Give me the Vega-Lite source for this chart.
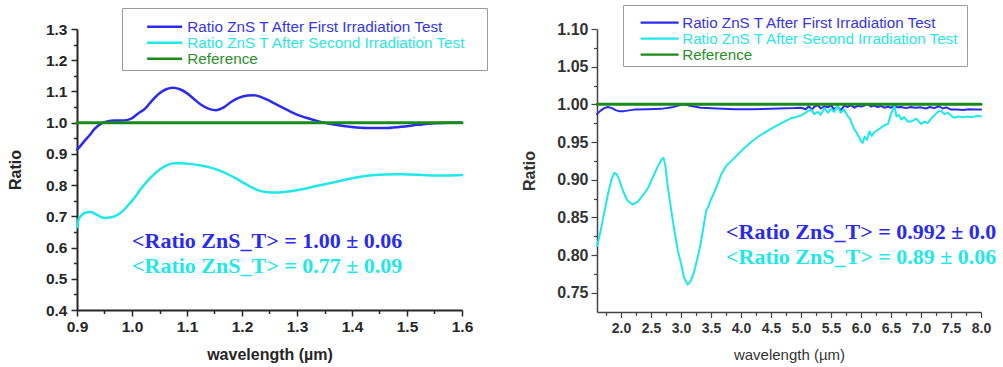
{
  "$schema": "https://vega.github.io/schema/vega-lite/v6.json",
  "background": "white",
  "padding": {"left": 7, "top": 4, "right": 0, "bottom": 4},
  "bounds": "flush",
  "spacing": 135,
  "config": {
    "view": {"stroke": null},
    "font": "Liberation Sans",
    "axis": {
      "grid": false,
      "domainColor": "#262626",
      "tickColor": "#262626",
      "labelColor": "#262626",
      "titleColor": "#262626",
      "labelFont": "Liberation Sans",
      "titleFont": "Liberation Sans",
      "labelFontWeight": "bold",
      "tickWidth": 1.5,
      "domainWidth": 2,
      "labelFlush": false,
      "labelOverlap": false,
      "labelBound": false
    },
    "line": {"strokeCap": "round", "strokeJoin": "round"}
  },
  "datasets": {
    "vis": [
      {"series": "Ratio ZnS T After First Irradiation Test", "wavelength": 0.900, "ratio": 0.913},
      {"series": "Ratio ZnS T After First Irradiation Test", "wavelength": 0.906, "ratio": 0.925},
      {"series": "Ratio ZnS T After First Irradiation Test", "wavelength": 0.913, "ratio": 0.940},
      {"series": "Ratio ZnS T After First Irradiation Test", "wavelength": 0.922, "ratio": 0.958},
      {"series": "Ratio ZnS T After First Irradiation Test", "wavelength": 0.932, "ratio": 0.980},
      {"series": "Ratio ZnS T After First Irradiation Test", "wavelength": 0.944, "ratio": 0.997},
      {"series": "Ratio ZnS T After First Irradiation Test", "wavelength": 0.955, "ratio": 1.004},
      {"series": "Ratio ZnS T After First Irradiation Test", "wavelength": 0.968, "ratio": 1.007},
      {"series": "Ratio ZnS T After First Irradiation Test", "wavelength": 0.980, "ratio": 1.007},
      {"series": "Ratio ZnS T After First Irradiation Test", "wavelength": 0.992, "ratio": 1.009},
      {"series": "Ratio ZnS T After First Irradiation Test", "wavelength": 1.000, "ratio": 1.014},
      {"series": "Ratio ZnS T After First Irradiation Test", "wavelength": 1.007, "ratio": 1.024},
      {"series": "Ratio ZnS T After First Irradiation Test", "wavelength": 1.015, "ratio": 1.034},
      {"series": "Ratio ZnS T After First Irradiation Test", "wavelength": 1.022, "ratio": 1.042},
      {"series": "Ratio ZnS T After First Irradiation Test", "wavelength": 1.036, "ratio": 1.070},
      {"series": "Ratio ZnS T After First Irradiation Test", "wavelength": 1.050, "ratio": 1.094},
      {"series": "Ratio ZnS T After First Irradiation Test", "wavelength": 1.062, "ratio": 1.107},
      {"series": "Ratio ZnS T After First Irradiation Test", "wavelength": 1.074, "ratio": 1.112},
      {"series": "Ratio ZnS T After First Irradiation Test", "wavelength": 1.087, "ratio": 1.107},
      {"series": "Ratio ZnS T After First Irradiation Test", "wavelength": 1.101, "ratio": 1.093},
      {"series": "Ratio ZnS T After First Irradiation Test", "wavelength": 1.113, "ratio": 1.075},
      {"series": "Ratio ZnS T After First Irradiation Test", "wavelength": 1.125, "ratio": 1.058},
      {"series": "Ratio ZnS T After First Irradiation Test", "wavelength": 1.140, "ratio": 1.044},
      {"series": "Ratio ZnS T After First Irradiation Test", "wavelength": 1.153, "ratio": 1.040},
      {"series": "Ratio ZnS T After First Irradiation Test", "wavelength": 1.166, "ratio": 1.048},
      {"series": "Ratio ZnS T After First Irradiation Test", "wavelength": 1.180, "ratio": 1.066},
      {"series": "Ratio ZnS T After First Irradiation Test", "wavelength": 1.195, "ratio": 1.080},
      {"series": "Ratio ZnS T After First Irradiation Test", "wavelength": 1.210, "ratio": 1.087},
      {"series": "Ratio ZnS T After First Irradiation Test", "wavelength": 1.222, "ratio": 1.088},
      {"series": "Ratio ZnS T After First Irradiation Test", "wavelength": 1.235, "ratio": 1.082},
      {"series": "Ratio ZnS T After First Irradiation Test", "wavelength": 1.250, "ratio": 1.070},
      {"series": "Ratio ZnS T After First Irradiation Test", "wavelength": 1.265, "ratio": 1.056},
      {"series": "Ratio ZnS T After First Irradiation Test", "wavelength": 1.283, "ratio": 1.040},
      {"series": "Ratio ZnS T After First Irradiation Test", "wavelength": 1.300, "ratio": 1.026},
      {"series": "Ratio ZnS T After First Irradiation Test", "wavelength": 1.320, "ratio": 1.014},
      {"series": "Ratio ZnS T After First Irradiation Test", "wavelength": 1.338, "ratio": 1.005},
      {"series": "Ratio ZnS T After First Irradiation Test", "wavelength": 1.355, "ratio": 0.998},
      {"series": "Ratio ZnS T After First Irradiation Test", "wavelength": 1.370, "ratio": 0.993},
      {"series": "Ratio ZnS T After First Irradiation Test", "wavelength": 1.400, "ratio": 0.986},
      {"series": "Ratio ZnS T After First Irradiation Test", "wavelength": 1.428, "ratio": 0.983},
      {"series": "Ratio ZnS T After First Irradiation Test", "wavelength": 1.460, "ratio": 0.983},
      {"series": "Ratio ZnS T After First Irradiation Test", "wavelength": 1.489, "ratio": 0.987},
      {"series": "Ratio ZnS T After First Irradiation Test", "wavelength": 1.520, "ratio": 0.993},
      {"series": "Ratio ZnS T After First Irradiation Test", "wavelength": 1.549, "ratio": 0.998},
      {"series": "Ratio ZnS T After First Irradiation Test", "wavelength": 1.575, "ratio": 1.000},
      {"series": "Ratio ZnS T After First Irradiation Test", "wavelength": 1.600, "ratio": 1.000},
      {"series": "Ratio ZnS T After Second Irradiation Test", "wavelength": 0.900, "ratio": 0.665},
      {"series": "Ratio ZnS T After Second Irradiation Test", "wavelength": 0.903, "ratio": 0.690},
      {"series": "Ratio ZnS T After Second Irradiation Test", "wavelength": 0.908, "ratio": 0.703},
      {"series": "Ratio ZnS T After Second Irradiation Test", "wavelength": 0.916, "ratio": 0.712},
      {"series": "Ratio ZnS T After Second Irradiation Test", "wavelength": 0.925, "ratio": 0.714},
      {"series": "Ratio ZnS T After Second Irradiation Test", "wavelength": 0.938, "ratio": 0.703},
      {"series": "Ratio ZnS T After Second Irradiation Test", "wavelength": 0.950, "ratio": 0.695},
      {"series": "Ratio ZnS T After Second Irradiation Test", "wavelength": 0.962, "ratio": 0.697},
      {"series": "Ratio ZnS T After Second Irradiation Test", "wavelength": 0.974, "ratio": 0.705},
      {"series": "Ratio ZnS T After Second Irradiation Test", "wavelength": 0.985, "ratio": 0.720},
      {"series": "Ratio ZnS T After Second Irradiation Test", "wavelength": 0.995, "ratio": 0.740},
      {"series": "Ratio ZnS T After Second Irradiation Test", "wavelength": 1.005, "ratio": 0.760},
      {"series": "Ratio ZnS T After Second Irradiation Test", "wavelength": 1.016, "ratio": 0.788},
      {"series": "Ratio ZnS T After Second Irradiation Test", "wavelength": 1.028, "ratio": 0.813},
      {"series": "Ratio ZnS T After Second Irradiation Test", "wavelength": 1.041, "ratio": 0.836},
      {"series": "Ratio ZnS T After Second Irradiation Test", "wavelength": 1.053, "ratio": 0.853},
      {"series": "Ratio ZnS T After Second Irradiation Test", "wavelength": 1.065, "ratio": 0.865},
      {"series": "Ratio ZnS T After Second Irradiation Test", "wavelength": 1.078, "ratio": 0.870},
      {"series": "Ratio ZnS T After Second Irradiation Test", "wavelength": 1.090, "ratio": 0.870},
      {"series": "Ratio ZnS T After Second Irradiation Test", "wavelength": 1.105, "ratio": 0.868},
      {"series": "Ratio ZnS T After Second Irradiation Test", "wavelength": 1.125, "ratio": 0.863},
      {"series": "Ratio ZnS T After Second Irradiation Test", "wavelength": 1.143, "ratio": 0.856},
      {"series": "Ratio ZnS T After Second Irradiation Test", "wavelength": 1.162, "ratio": 0.845},
      {"series": "Ratio ZnS T After Second Irradiation Test", "wavelength": 1.180, "ratio": 0.830},
      {"series": "Ratio ZnS T After Second Irradiation Test", "wavelength": 1.198, "ratio": 0.812},
      {"series": "Ratio ZnS T After Second Irradiation Test", "wavelength": 1.215, "ratio": 0.795},
      {"series": "Ratio ZnS T After Second Irradiation Test", "wavelength": 1.230, "ratio": 0.783},
      {"series": "Ratio ZnS T After Second Irradiation Test", "wavelength": 1.246, "ratio": 0.777},
      {"series": "Ratio ZnS T After Second Irradiation Test", "wavelength": 1.262, "ratio": 0.776},
      {"series": "Ratio ZnS T After Second Irradiation Test", "wavelength": 1.280, "ratio": 0.779},
      {"series": "Ratio ZnS T After Second Irradiation Test", "wavelength": 1.307, "ratio": 0.786},
      {"series": "Ratio ZnS T After Second Irradiation Test", "wavelength": 1.335, "ratio": 0.797},
      {"series": "Ratio ZnS T After Second Irradiation Test", "wavelength": 1.368, "ratio": 0.809},
      {"series": "Ratio ZnS T After Second Irradiation Test", "wavelength": 1.400, "ratio": 0.822},
      {"series": "Ratio ZnS T After Second Irradiation Test", "wavelength": 1.428, "ratio": 0.830},
      {"series": "Ratio ZnS T After Second Irradiation Test", "wavelength": 1.460, "ratio": 0.834},
      {"series": "Ratio ZnS T After Second Irradiation Test", "wavelength": 1.489, "ratio": 0.835},
      {"series": "Ratio ZnS T After Second Irradiation Test", "wavelength": 1.520, "ratio": 0.833},
      {"series": "Ratio ZnS T After Second Irradiation Test", "wavelength": 1.550, "ratio": 0.831},
      {"series": "Ratio ZnS T After Second Irradiation Test", "wavelength": 1.575, "ratio": 0.831},
      {"series": "Ratio ZnS T After Second Irradiation Test", "wavelength": 1.600, "ratio": 0.832},
      {"series": "Reference", "wavelength": 0.900, "ratio": 1.0},
      {"series": "Reference", "wavelength": 1.600, "ratio": 1.0}
    ],
    "ir": [
      {"series": "Ratio ZnS T After First Irradiation Test", "wavelength": 1.60, "ratio": 0.987},
      {"series": "Ratio ZnS T After First Irradiation Test", "wavelength": 1.65, "ratio": 0.991},
      {"series": "Ratio ZnS T After First Irradiation Test", "wavelength": 1.72, "ratio": 0.995},
      {"series": "Ratio ZnS T After First Irradiation Test", "wavelength": 1.78, "ratio": 0.9965},
      {"series": "Ratio ZnS T After First Irradiation Test", "wavelength": 1.85, "ratio": 0.995},
      {"series": "Ratio ZnS T After First Irradiation Test", "wavelength": 1.92, "ratio": 0.992},
      {"series": "Ratio ZnS T After First Irradiation Test", "wavelength": 1.97, "ratio": 0.991},
      {"series": "Ratio ZnS T After First Irradiation Test", "wavelength": 2.05, "ratio": 0.991},
      {"series": "Ratio ZnS T After First Irradiation Test", "wavelength": 2.22, "ratio": 0.993},
      {"series": "Ratio ZnS T After First Irradiation Test", "wavelength": 2.45, "ratio": 0.9935},
      {"series": "Ratio ZnS T After First Irradiation Test", "wavelength": 2.67, "ratio": 0.994},
      {"series": "Ratio ZnS T After First Irradiation Test", "wavelength": 2.85, "ratio": 0.996},
      {"series": "Ratio ZnS T After First Irradiation Test", "wavelength": 3.00, "ratio": 0.9995},
      {"series": "Ratio ZnS T After First Irradiation Test", "wavelength": 3.06, "ratio": 1.000},
      {"series": "Ratio ZnS T After First Irradiation Test", "wavelength": 3.15, "ratio": 0.998},
      {"series": "Ratio ZnS T After First Irradiation Test", "wavelength": 3.33, "ratio": 0.9955},
      {"series": "Ratio ZnS T After First Irradiation Test", "wavelength": 3.60, "ratio": 0.9945},
      {"series": "Ratio ZnS T After First Irradiation Test", "wavelength": 3.90, "ratio": 0.9935},
      {"series": "Ratio ZnS T After First Irradiation Test", "wavelength": 4.17, "ratio": 0.9935},
      {"series": "Ratio ZnS T After First Irradiation Test", "wavelength": 4.50, "ratio": 0.994},
      {"series": "Ratio ZnS T After First Irradiation Test", "wavelength": 4.89, "ratio": 0.995},
      {"series": "Ratio ZnS T After First Irradiation Test", "wavelength": 5.00, "ratio": 0.9955},
      {"series": "Ratio ZnS T After First Irradiation Test", "wavelength": 5.08, "ratio": 0.9935},
      {"series": "Ratio ZnS T After First Irradiation Test", "wavelength": 5.13, "ratio": 0.9975},
      {"series": "Ratio ZnS T After First Irradiation Test", "wavelength": 5.18, "ratio": 0.993},
      {"series": "Ratio ZnS T After First Irradiation Test", "wavelength": 5.22, "ratio": 0.9965},
      {"series": "Ratio ZnS T After First Irradiation Test", "wavelength": 5.28, "ratio": 0.999},
      {"series": "Ratio ZnS T After First Irradiation Test", "wavelength": 5.33, "ratio": 0.9945},
      {"series": "Ratio ZnS T After First Irradiation Test", "wavelength": 5.39, "ratio": 0.9975},
      {"series": "Ratio ZnS T After First Irradiation Test", "wavelength": 5.45, "ratio": 0.996},
      {"series": "Ratio ZnS T After First Irradiation Test", "wavelength": 5.50, "ratio": 0.999},
      {"series": "Ratio ZnS T After First Irradiation Test", "wavelength": 5.55, "ratio": 0.9935},
      {"series": "Ratio ZnS T After First Irradiation Test", "wavelength": 5.61, "ratio": 0.997},
      {"series": "Ratio ZnS T After First Irradiation Test", "wavelength": 5.66, "ratio": 0.992},
      {"series": "Ratio ZnS T After First Irradiation Test", "wavelength": 5.72, "ratio": 0.998},
      {"series": "Ratio ZnS T After First Irradiation Test", "wavelength": 5.78, "ratio": 0.9965},
      {"series": "Ratio ZnS T After First Irradiation Test", "wavelength": 5.83, "ratio": 0.999},
      {"series": "Ratio ZnS T After First Irradiation Test", "wavelength": 5.89, "ratio": 0.9955},
      {"series": "Ratio ZnS T After First Irradiation Test", "wavelength": 5.95, "ratio": 0.998},
      {"series": "Ratio ZnS T After First Irradiation Test", "wavelength": 6.00, "ratio": 0.997},
      {"series": "Ratio ZnS T After First Irradiation Test", "wavelength": 6.06, "ratio": 0.9985},
      {"series": "Ratio ZnS T After First Irradiation Test", "wavelength": 6.11, "ratio": 1.0005},
      {"series": "Ratio ZnS T After First Irradiation Test", "wavelength": 6.17, "ratio": 0.997},
      {"series": "Ratio ZnS T After First Irradiation Test", "wavelength": 6.22, "ratio": 0.9985},
      {"series": "Ratio ZnS T After First Irradiation Test", "wavelength": 6.28, "ratio": 0.9965},
      {"series": "Ratio ZnS T After First Irradiation Test", "wavelength": 6.33, "ratio": 0.998},
      {"series": "Ratio ZnS T After First Irradiation Test", "wavelength": 6.39, "ratio": 0.9955},
      {"series": "Ratio ZnS T After First Irradiation Test", "wavelength": 6.45, "ratio": 0.997},
      {"series": "Ratio ZnS T After First Irradiation Test", "wavelength": 6.50, "ratio": 0.9955},
      {"series": "Ratio ZnS T After First Irradiation Test", "wavelength": 6.56, "ratio": 0.998},
      {"series": "Ratio ZnS T After First Irradiation Test", "wavelength": 6.61, "ratio": 0.996},
      {"series": "Ratio ZnS T After First Irradiation Test", "wavelength": 6.67, "ratio": 0.9965},
      {"series": "Ratio ZnS T After First Irradiation Test", "wavelength": 6.75, "ratio": 0.995},
      {"series": "Ratio ZnS T After First Irradiation Test", "wavelength": 6.83, "ratio": 0.9965},
      {"series": "Ratio ZnS T After First Irradiation Test", "wavelength": 6.90, "ratio": 0.9955},
      {"series": "Ratio ZnS T After First Irradiation Test", "wavelength": 7.00, "ratio": 0.996},
      {"series": "Ratio ZnS T After First Irradiation Test", "wavelength": 7.08, "ratio": 0.9945},
      {"series": "Ratio ZnS T After First Irradiation Test", "wavelength": 7.15, "ratio": 0.9965},
      {"series": "Ratio ZnS T After First Irradiation Test", "wavelength": 7.22, "ratio": 0.995},
      {"series": "Ratio ZnS T After First Irradiation Test", "wavelength": 7.30, "ratio": 0.9975},
      {"series": "Ratio ZnS T After First Irradiation Test", "wavelength": 7.36, "ratio": 0.9945},
      {"series": "Ratio ZnS T After First Irradiation Test", "wavelength": 7.42, "ratio": 0.996},
      {"series": "Ratio ZnS T After First Irradiation Test", "wavelength": 7.50, "ratio": 0.993},
      {"series": "Ratio ZnS T After First Irradiation Test", "wavelength": 7.60, "ratio": 0.993},
      {"series": "Ratio ZnS T After First Irradiation Test", "wavelength": 7.70, "ratio": 0.9925},
      {"series": "Ratio ZnS T After First Irradiation Test", "wavelength": 7.80, "ratio": 0.9935},
      {"series": "Ratio ZnS T After First Irradiation Test", "wavelength": 7.90, "ratio": 0.993},
      {"series": "Ratio ZnS T After First Irradiation Test", "wavelength": 8.00, "ratio": 0.993},
      {"series": "Ratio ZnS T After Second Irradiation Test", "wavelength": 1.60, "ratio": 0.812},
      {"series": "Ratio ZnS T After Second Irradiation Test", "wavelength": 1.64, "ratio": 0.825},
      {"series": "Ratio ZnS T After Second Irradiation Test", "wavelength": 1.68, "ratio": 0.840},
      {"series": "Ratio ZnS T After Second Irradiation Test", "wavelength": 1.73, "ratio": 0.860},
      {"series": "Ratio ZnS T After Second Irradiation Test", "wavelength": 1.78, "ratio": 0.880},
      {"series": "Ratio ZnS T After Second Irradiation Test", "wavelength": 1.84, "ratio": 0.900},
      {"series": "Ratio ZnS T After Second Irradiation Test", "wavelength": 1.89, "ratio": 0.909},
      {"series": "Ratio ZnS T After Second Irradiation Test", "wavelength": 1.93, "ratio": 0.907},
      {"series": "Ratio ZnS T After Second Irradiation Test", "wavelength": 1.97, "ratio": 0.900},
      {"series": "Ratio ZnS T After Second Irradiation Test", "wavelength": 2.03, "ratio": 0.886},
      {"series": "Ratio ZnS T After Second Irradiation Test", "wavelength": 2.10, "ratio": 0.873},
      {"series": "Ratio ZnS T After Second Irradiation Test", "wavelength": 2.19, "ratio": 0.867},
      {"series": "Ratio ZnS T After Second Irradiation Test", "wavelength": 2.28, "ratio": 0.871},
      {"series": "Ratio ZnS T After Second Irradiation Test", "wavelength": 2.38, "ratio": 0.881},
      {"series": "Ratio ZnS T After Second Irradiation Test", "wavelength": 2.45, "ratio": 0.889},
      {"series": "Ratio ZnS T After Second Irradiation Test", "wavelength": 2.53, "ratio": 0.903},
      {"series": "Ratio ZnS T After Second Irradiation Test", "wavelength": 2.61, "ratio": 0.917},
      {"series": "Ratio ZnS T After Second Irradiation Test", "wavelength": 2.67, "ratio": 0.926},
      {"series": "Ratio ZnS T After Second Irradiation Test", "wavelength": 2.71, "ratio": 0.929},
      {"series": "Ratio ZnS T After Second Irradiation Test", "wavelength": 2.74, "ratio": 0.918},
      {"series": "Ratio ZnS T After Second Irradiation Test", "wavelength": 2.78, "ratio": 0.890},
      {"series": "Ratio ZnS T After Second Irradiation Test", "wavelength": 2.84, "ratio": 0.858},
      {"series": "Ratio ZnS T After Second Irradiation Test", "wavelength": 2.89, "ratio": 0.832},
      {"series": "Ratio ZnS T After Second Irradiation Test", "wavelength": 2.95, "ratio": 0.805},
      {"series": "Ratio ZnS T After Second Irradiation Test", "wavelength": 3.00, "ratio": 0.789},
      {"series": "Ratio ZnS T After Second Irradiation Test", "wavelength": 3.05, "ratio": 0.770},
      {"series": "Ratio ZnS T After Second Irradiation Test", "wavelength": 3.11, "ratio": 0.761},
      {"series": "Ratio ZnS T After Second Irradiation Test", "wavelength": 3.16, "ratio": 0.765},
      {"series": "Ratio ZnS T After Second Irradiation Test", "wavelength": 3.22, "ratio": 0.778},
      {"series": "Ratio ZnS T After Second Irradiation Test", "wavelength": 3.28, "ratio": 0.798},
      {"series": "Ratio ZnS T After Second Irradiation Test", "wavelength": 3.33, "ratio": 0.816},
      {"series": "Ratio ZnS T After Second Irradiation Test", "wavelength": 3.38, "ratio": 0.840},
      {"series": "Ratio ZnS T After Second Irradiation Test", "wavelength": 3.42, "ratio": 0.859},
      {"series": "Ratio ZnS T After Second Irradiation Test", "wavelength": 3.45, "ratio": 0.863},
      {"series": "Ratio ZnS T After Second Irradiation Test", "wavelength": 3.50, "ratio": 0.874},
      {"series": "Ratio ZnS T After Second Irradiation Test", "wavelength": 3.56, "ratio": 0.884},
      {"series": "Ratio ZnS T After Second Irradiation Test", "wavelength": 3.61, "ratio": 0.894},
      {"series": "Ratio ZnS T After Second Irradiation Test", "wavelength": 3.67, "ratio": 0.907},
      {"series": "Ratio ZnS T After Second Irradiation Test", "wavelength": 3.75, "ratio": 0.918},
      {"series": "Ratio ZnS T After Second Irradiation Test", "wavelength": 3.89, "ratio": 0.929},
      {"series": "Ratio ZnS T After Second Irradiation Test", "wavelength": 4.03, "ratio": 0.940},
      {"series": "Ratio ZnS T After Second Irradiation Test", "wavelength": 4.17, "ratio": 0.950},
      {"series": "Ratio ZnS T After Second Irradiation Test", "wavelength": 4.30, "ratio": 0.958},
      {"series": "Ratio ZnS T After Second Irradiation Test", "wavelength": 4.45, "ratio": 0.965},
      {"series": "Ratio ZnS T After Second Irradiation Test", "wavelength": 4.58, "ratio": 0.971},
      {"series": "Ratio ZnS T After Second Irradiation Test", "wavelength": 4.72, "ratio": 0.977},
      {"series": "Ratio ZnS T After Second Irradiation Test", "wavelength": 4.85, "ratio": 0.982},
      {"series": "Ratio ZnS T After Second Irradiation Test", "wavelength": 5.00, "ratio": 0.985},
      {"series": "Ratio ZnS T After Second Irradiation Test", "wavelength": 5.06, "ratio": 0.988},
      {"series": "Ratio ZnS T After Second Irradiation Test", "wavelength": 5.11, "ratio": 0.991},
      {"series": "Ratio ZnS T After Second Irradiation Test", "wavelength": 5.17, "ratio": 0.993},
      {"series": "Ratio ZnS T After Second Irradiation Test", "wavelength": 5.22, "ratio": 0.987},
      {"series": "Ratio ZnS T After Second Irradiation Test", "wavelength": 5.28, "ratio": 0.990},
      {"series": "Ratio ZnS T After Second Irradiation Test", "wavelength": 5.33, "ratio": 0.986},
      {"series": "Ratio ZnS T After Second Irradiation Test", "wavelength": 5.39, "ratio": 0.995},
      {"series": "Ratio ZnS T After Second Irradiation Test", "wavelength": 5.45, "ratio": 0.989},
      {"series": "Ratio ZnS T After Second Irradiation Test", "wavelength": 5.50, "ratio": 0.994},
      {"series": "Ratio ZnS T After Second Irradiation Test", "wavelength": 5.55, "ratio": 0.990},
      {"series": "Ratio ZnS T After Second Irradiation Test", "wavelength": 5.61, "ratio": 0.998},
      {"series": "Ratio ZnS T After Second Irradiation Test", "wavelength": 5.66, "ratio": 0.989},
      {"series": "Ratio ZnS T After Second Irradiation Test", "wavelength": 5.72, "ratio": 0.993},
      {"series": "Ratio ZnS T After Second Irradiation Test", "wavelength": 5.78, "ratio": 0.984},
      {"series": "Ratio ZnS T After Second Irradiation Test", "wavelength": 5.81, "ratio": 0.982},
      {"series": "Ratio ZnS T After Second Irradiation Test", "wavelength": 5.86, "ratio": 0.972},
      {"series": "Ratio ZnS T After Second Irradiation Test", "wavelength": 5.89, "ratio": 0.967},
      {"series": "Ratio ZnS T After Second Irradiation Test", "wavelength": 5.93, "ratio": 0.962},
      {"series": "Ratio ZnS T After Second Irradiation Test", "wavelength": 5.97, "ratio": 0.956},
      {"series": "Ratio ZnS T After Second Irradiation Test", "wavelength": 6.00, "ratio": 0.951},
      {"series": "Ratio ZnS T After Second Irradiation Test", "wavelength": 6.03, "ratio": 0.949},
      {"series": "Ratio ZnS T After Second Irradiation Test", "wavelength": 6.06, "ratio": 0.957},
      {"series": "Ratio ZnS T After Second Irradiation Test", "wavelength": 6.10, "ratio": 0.953},
      {"series": "Ratio ZnS T After Second Irradiation Test", "wavelength": 6.14, "ratio": 0.964},
      {"series": "Ratio ZnS T After Second Irradiation Test", "wavelength": 6.18, "ratio": 0.958},
      {"series": "Ratio ZnS T After Second Irradiation Test", "wavelength": 6.22, "ratio": 0.963},
      {"series": "Ratio ZnS T After Second Irradiation Test", "wavelength": 6.28, "ratio": 0.966},
      {"series": "Ratio ZnS T After Second Irradiation Test", "wavelength": 6.33, "ratio": 0.969},
      {"series": "Ratio ZnS T After Second Irradiation Test", "wavelength": 6.39, "ratio": 0.972},
      {"series": "Ratio ZnS T After Second Irradiation Test", "wavelength": 6.45, "ratio": 0.974},
      {"series": "Ratio ZnS T After Second Irradiation Test", "wavelength": 6.50, "ratio": 0.987},
      {"series": "Ratio ZnS T After Second Irradiation Test", "wavelength": 6.56, "ratio": 0.998},
      {"series": "Ratio ZnS T After Second Irradiation Test", "wavelength": 6.59, "ratio": 0.984},
      {"series": "Ratio ZnS T After Second Irradiation Test", "wavelength": 6.63, "ratio": 0.986},
      {"series": "Ratio ZnS T After Second Irradiation Test", "wavelength": 6.67, "ratio": 0.980},
      {"series": "Ratio ZnS T After Second Irradiation Test", "wavelength": 6.72, "ratio": 0.983},
      {"series": "Ratio ZnS T After Second Irradiation Test", "wavelength": 6.78, "ratio": 0.977},
      {"series": "Ratio ZnS T After Second Irradiation Test", "wavelength": 6.86, "ratio": 0.978},
      {"series": "Ratio ZnS T After Second Irradiation Test", "wavelength": 6.92, "ratio": 0.981},
      {"series": "Ratio ZnS T After Second Irradiation Test", "wavelength": 7.00, "ratio": 0.974},
      {"series": "Ratio ZnS T After Second Irradiation Test", "wavelength": 7.06, "ratio": 0.977},
      {"series": "Ratio ZnS T After Second Irradiation Test", "wavelength": 7.11, "ratio": 0.975},
      {"series": "Ratio ZnS T After Second Irradiation Test", "wavelength": 7.17, "ratio": 0.981},
      {"series": "Ratio ZnS T After Second Irradiation Test", "wavelength": 7.22, "ratio": 0.985},
      {"series": "Ratio ZnS T After Second Irradiation Test", "wavelength": 7.28, "ratio": 0.990},
      {"series": "Ratio ZnS T After Second Irradiation Test", "wavelength": 7.33, "ratio": 0.9915},
      {"series": "Ratio ZnS T After Second Irradiation Test", "wavelength": 7.39, "ratio": 0.987},
      {"series": "Ratio ZnS T After Second Irradiation Test", "wavelength": 7.45, "ratio": 0.989},
      {"series": "Ratio ZnS T After Second Irradiation Test", "wavelength": 7.50, "ratio": 0.985},
      {"series": "Ratio ZnS T After Second Irradiation Test", "wavelength": 7.56, "ratio": 0.982},
      {"series": "Ratio ZnS T After Second Irradiation Test", "wavelength": 7.62, "ratio": 0.984},
      {"series": "Ratio ZnS T After Second Irradiation Test", "wavelength": 7.70, "ratio": 0.983},
      {"series": "Ratio ZnS T After Second Irradiation Test", "wavelength": 7.78, "ratio": 0.984},
      {"series": "Ratio ZnS T After Second Irradiation Test", "wavelength": 7.86, "ratio": 0.983},
      {"series": "Ratio ZnS T After Second Irradiation Test", "wavelength": 7.94, "ratio": 0.985},
      {"series": "Ratio ZnS T After Second Irradiation Test", "wavelength": 8.00, "ratio": 0.984},
      {"series": "Reference", "wavelength": 1.60, "ratio": 1.0},
      {"series": "Reference", "wavelength": 8.00, "ratio": 1.0}
    ],
    "visMeans": [
      {"series": "Ratio ZnS T After First Irradiation Test", "wavelength": 1.0, "ratio": 0.600, "label": "<Ratio ZnS_T> = 1.00 ± 0.06"},
      {"series": "Ratio ZnS T After Second Irradiation Test", "wavelength": 1.0, "ratio": 0.519, "label": "<Ratio ZnS_T> = 0.77 ± 0.09"}
    ],
    "irMeans": [
      {"series": "Ratio ZnS T After First Irradiation Test", "wavelength": 3.75, "ratio": 0.821, "label": "<Ratio ZnS_T> = 0.992 ± 0.006"},
      {"series": "Ratio ZnS T After Second Irradiation Test", "wavelength": 3.75, "ratio": 0.788, "label": "<Ratio ZnS_T> = 0.89 ± 0.06"}
    ]
  },
  "hconcat": [
    {
      "width": 385,
      "height": 281,
      "layer": [
        {
          "data": {"name": "vis"},
          "mark": {"type": "line", "interpolate": "monotone"},
          "encoding": {
            "x": {
              "field": "wavelength", "type": "quantitative",
              "scale": {"domain": [0.9, 1.6], "nice": false, "zero": false},
              "axis": {
                "values": [0.9, 0.95, 1.0, 1.05, 1.1, 1.15, 1.2, 1.25, 1.3, 1.35, 1.4, 1.45, 1.5, 1.55, 1.6],
                "tickCount": 100,
                "labelExpr": "abs(datum.value * 10 - round(datum.value * 10)) < 0.001 ? format(datum.value, '.1f') : ''",
                "tickSize": {"condition": {"test": "abs(datum.value * 10 - round(datum.value * 10)) < 0.001", "value": 6}, "value": 3.5},
                "labelOverlap": false, "labelBound": false, "labelFlush": false,
                "labelFontSize": 15.5,
                "labelPadding": 3,
                "title": "wavelength (µm)",
                "titleFontSize": 16,
                "titleFontWeight": "bold",
                "titlePadding": 12
              }
            },
            "y": {
              "field": "ratio", "type": "quantitative",
              "scale": {"domain": [0.4, 1.3], "nice": false, "zero": false},
              "axis": {
                "values": [0.4, 0.45, 0.5, 0.55, 0.6, 0.65, 0.7, 0.75, 0.8, 0.85, 0.9, 0.95, 1.0, 1.05, 1.1, 1.15, 1.2, 1.25, 1.3],
                "tickCount": 100,
                "labelExpr": "abs(datum.value * 10 - round(datum.value * 10)) < 0.001 ? format(datum.value, '.1f') : ''",
                "tickSize": {"condition": {"test": "abs(datum.value * 10 - round(datum.value * 10)) < 0.001", "value": 6}, "value": 3.5},
                "labelOverlap": false, "labelBound": false, "labelFlush": false,
                "labelFontSize": 15.5,
                "labelPadding": 4,
                "title": "Ratio",
                "titleFontSize": 16,
                "titleFontWeight": "bold",
                "titlePadding": 22
              }
            },
            "color": {
              "field": "series", "type": "nominal",
              "scale": {
                "domain": ["Ratio ZnS T After First Irradiation Test", "Ratio ZnS T After Second Irradiation Test", "Reference"],
                "range": ["#2b2bef", "#1fe8e8", "#1a8a1a"]
              },
              "legend": {
                "orient": "none", "legendX": 45, "legendY": -21,
                "title": " ", "titleFontSize": 6, "titlePadding": 2,
                "direction": "vertical",
                "strokeColor": "#9a9a9a", "fillColor": "white", "padding": 3,
                "symbolType": "M-7,0H7", "symbolSize": 25, "symbolOffset": 32,
                "symbolStrokeWidth": 2.5,
                "labelFont": "Liberation Sans", "labelFontSize": 15.3, "labelFontWeight": "normal",
                "labelOffset": 15, "rowPadding": 0, "labelLimit": 500,
                "labelExpr": "datum.label + '\u00a0\u00a0\u00a0\u00a0\u200b'",
                "labelColor": {"expr": "datum.value == 'Reference' ? '#2a8f2a' : (indexof(datum.value, 'First') >= 0 ? '#3535e6' : '#2ae6e6')"}
              }
            },
            "strokeWidth": {"condition": {"test": "datum.series == 'Reference'", "value": 3}, "value": 2.5}
          }
        },
        {
          "data": {"name": "visMeans"},
          "mark": {"type": "text", "align": "left", "baseline": "alphabetic", "font": "Liberation Serif", "fontWeight": "bold", "fontSize": 22},
          "encoding": {
            "x": {"field": "wavelength", "type": "quantitative"},
            "y": {"field": "ratio", "type": "quantitative"},
            "text": {"field": "label"},
            "color": {"field": "series", "type": "nominal", "legend": null}
          }
        }
      ]
    },
    {
      "width": 384,
      "height": 283,
      "layer": [
        {
          "data": {"name": "ir"},
          "mark": {"type": "line"},
          "encoding": {
            "x": {
              "field": "wavelength", "type": "quantitative",
              "scale": {"domain": [1.6, 8.0], "nice": false, "zero": false},
              "axis": {
                "values": [1.75, 2.0, 2.25, 2.5, 2.75, 3.0, 3.25, 3.5, 3.75, 4.0, 4.25, 4.5, 4.75, 5.0, 5.25, 5.5, 5.75, 6.0, 6.25, 6.5, 6.75, 7.0, 7.25, 7.5, 7.75, 8.0],
                "tickCount": 100,
                "labelExpr": "abs(datum.value * 2 - round(datum.value * 2)) < 0.001 ? format(datum.value, '.1f') : ''",
                "tickSize": {"condition": {"test": "abs(datum.value * 2 - round(datum.value * 2)) < 0.001", "value": 5.5}, "value": 3.5},
                "labelOverlap": false, "labelBound": false, "labelFlush": false,
                "domainColor": "#444", "tickColor": "#444", "labelColor": "#333", "titleColor": "#333",
                "domainWidth": 1.5, "tickWidth": 1.2,
                "labelFontSize": 14,
                "labelPadding": 4,
                "title": "wavelength (µm)",
                "titleFontSize": 15,
                "titleFontWeight": "normal",
                "titlePadding": 12
              }
            },
            "y": {
              "field": "ratio", "type": "quantitative",
              "scale": {"domain": [0.7244, 1.1], "nice": false, "zero": false},
              "axis": {
                "values": [0.75, 0.775, 0.8, 0.825, 0.85, 0.875, 0.9, 0.925, 0.95, 0.975, 1.0, 1.025, 1.05, 1.075, 1.1],
                "tickCount": 100,
                "labelExpr": "abs(datum.value * 20 - round(datum.value * 20)) < 0.001 ? format(datum.value, '.2f') : ''",
                "tickSize": {"condition": {"test": "abs(datum.value * 20 - round(datum.value * 20)) < 0.001", "value": 6}, "value": 3.5},
                "labelOverlap": false, "labelBound": false, "labelFlush": false,
                "domainColor": "#444", "tickColor": "#444", "labelColor": "#333", "titleColor": "#333",
                "domainWidth": 1.5, "tickWidth": 1.2,
                "labelFontSize": 16,
                "labelPadding": 3,
                "title": "Ratio",
                "titleFontSize": 16,
                "titleFontWeight": "bold",
                "titlePadding": 19
              }
            },
            "color": {
              "field": "series", "type": "nominal",
              "scale": {
                "domain": ["Ratio ZnS T After First Irradiation Test", "Ratio ZnS T After Second Irradiation Test", "Reference"],
                "range": ["#2b2bef", "#1fe8e8", "#1a8a1a"]
              },
              "legend": {
                "orient": "none", "legendX": 26, "legendY": -24,
                "title": " ", "titleFontSize": 5, "titlePadding": 2,
                "direction": "vertical",
                "strokeColor": "#9a9a9a", "fillColor": "white", "padding": 3,
                "symbolType": "M-7.6,0H7.6", "symbolSize": 25, "symbolOffset": 26,
                "symbolStrokeWidth": 2.2,
                "labelFont": "Liberation Sans", "labelFontSize": 15.2, "labelFontWeight": "normal",
                "labelOffset": 15, "rowPadding": -1, "labelLimit": 500,
                "labelExpr": "datum.label + '\u00a0\u200b'",
                "labelColor": {"expr": "datum.value == 'Reference' ? '#2a8f2a' : (indexof(datum.value, 'First') >= 0 ? '#3535e6' : '#2ae6e6')"}
              }
            },
            "strokeWidth": {"condition": {"test": "datum.series == 'Reference'", "value": 3}, "value": 2}
          }
        },
        {
          "data": {"name": "irMeans"},
          "mark": {"type": "text", "align": "left", "baseline": "alphabetic", "font": "Liberation Serif", "fontWeight": "bold", "fontSize": 22, "limit": 278, "ellipsis": " "},
          "encoding": {
            "x": {"field": "wavelength", "type": "quantitative"},
            "y": {"field": "ratio", "type": "quantitative"},
            "text": {"field": "label"},
            "color": {"field": "series", "type": "nominal", "legend": null}
          }
        }
      ]
    }
  ],
  "resolve": {"scale": {"color": "independent"}}
}
